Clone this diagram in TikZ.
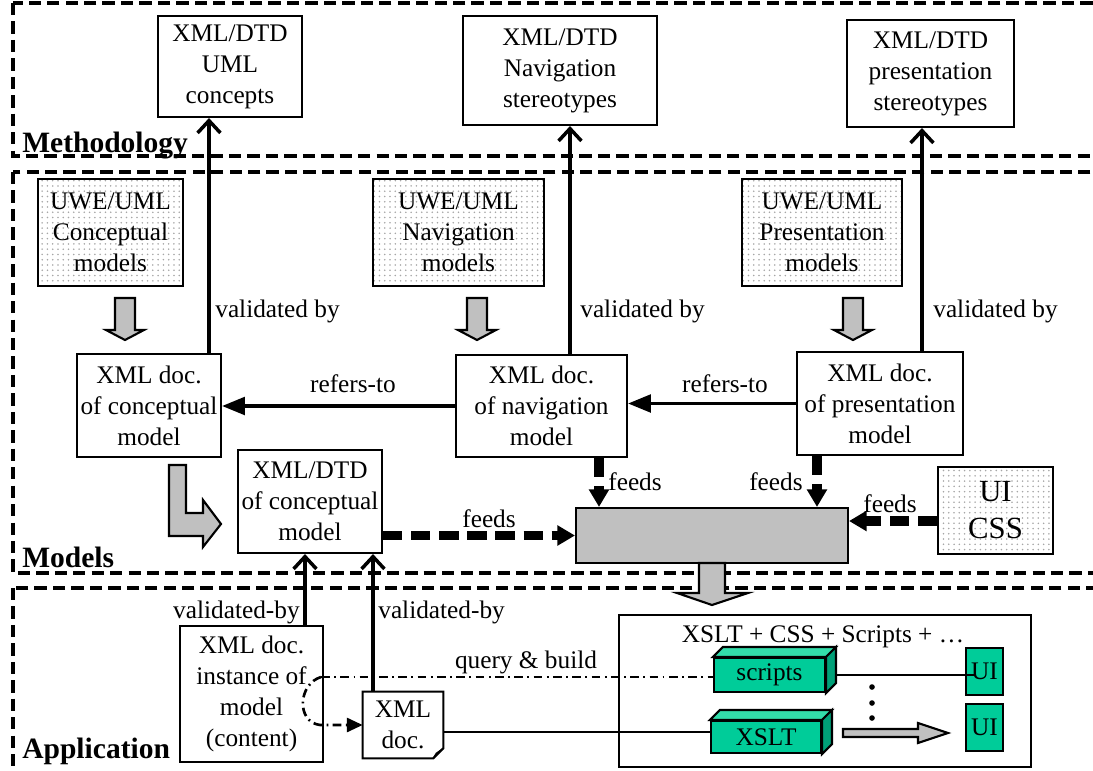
\documentclass[tikz,border=0pt]{standalone}
\usepackage{fontspec}
\setmainfont{Liberation Serif}
\definecolor{uwgray}{RGB}{192,192,192}
\definecolor{cubefront}{RGB}{0,204,153}
\definecolor{cubetop}{RGB}{51,221,170}
\definecolor{cubeside}{RGB}{0,160,120}
\usetikzlibrary{arrows.meta,patterns,calc}

\begin{document}
\begin{tikzpicture}[x=0.02cm, y=-0.02cm,
  every node/.style={font=\fontsize{14.4}{17.6}\selectfont},
  box/.style={draw, line width=1.2pt, align=center, inner sep=0pt},
  uwebox/.style={box, pattern=dots, pattern color=black!35},
  region/.style={draw, line width=2pt, dash pattern=on 7pt off 3.5pt},
  layer/.style={anchor=base west, inner sep=0pt, font=\fontsize{16.8}{20}\selectfont\bfseries},
  lbl/.style={inner sep=0pt},
  valid/.style={line width=2pt, -{Straight Barb[length=7pt,width=13pt,line width=2pt]}},
  refers/.style={line width=2pt, -{Triangle[length=13pt,width=10pt]}},
  feed/.style={line width=5.5pt, dash pattern=on 11pt off 5pt, -{Triangle[length=10pt,width=11pt]}},
  blockarrow/.style={draw, line width=1.2pt, fill=uwgray, line join=miter},
  cube/.style={box, fill=cubefront},
  query/.style={line width=1.5pt, dash pattern=on 5pt off 2.5pt on 1pt off 2.5pt}]
  \useasboundingbox (0,0) rectangle (1093,771);
  % Methodology layer
  \draw[region] (13,3) rectangle (1110,156);
  \node[layer] (methlbl) at (22,152) {Methodology};
  \node[box, minimum width=2.88cm, minimum height=2.02cm] (umlc) at (230,66.5) {XML/DTD\\UML\\concepts};
  \node[box, minimum width=3.88cm, minimum height=2.18cm] (navst) at (560,70.5) {XML/DTD\\Navigation\\stereotypes};
  \node[box, minimum width=3.34cm, minimum height=2.14cm] (presst) at (930.5,73.5) {XML/DTD\\presentation\\stereotypes};
  % Models layer
  \draw[region] (13,172) rectangle (1110,573);
  \node[layer] (modlbl) at (22,567) {Models};
  \node[uwebox, minimum width=2.9cm, minimum height=2.14cm] (uweconc) at (110.5,232.5) {UWE/UML\\Conceptual\\models};
  \node[uwebox, minimum width=3.42cm, minimum height=2.14cm] (uwenav) at (458.5,232.5) {UWE/UML\\Navigation\\models};
  \node[uwebox, minimum width=3.2cm, minimum height=2.14cm] (uwepres) at (822,232.5) {UWE/UML\\Presentation\\models};
  \node[box, minimum width=2.88cm, minimum height=2.06cm] (xmlconc) at (149,405.5) {XML doc.\\of conceptual\\model};
  \node[box, minimum width=3.42cm, minimum height=2.04cm] (xmlnav) at (541.5,406) {XML doc.\\of navigation\\model};
  \node[box, minimum width=3.32cm, minimum height=2.06cm] (xmlpres) at (880,403.5) {XML doc.\\of presentation\\model};
  \node[box, fill=white, minimum width=2.88cm, minimum height=2.06cm] (dtdconc) at (310,501.5) {XML/DTD\\of conceptual\\model};
  \node[box, fill=uwgray, minimum width=5.44cm, minimum height=1.1cm] (gen) at (712,535.5) {};
  \node[uwebox, minimum width=2.3cm, minimum height=1.74cm, font=\fontsize{17.5}{21}\selectfont] (uicss) at (995.5,510.5) {UI\\CSS};
  % transformation arrows
  \draw[blockarrow] (115,298) -- (135,298) -- (135,330) -- (144,330) -- (125,340) -- (106,330) -- (115,330) -- cycle;
  \draw[blockarrow] (467,298) -- (487,298) -- (487,330) -- (496,330) -- (477,340) -- (458,330) -- (467,330) -- cycle;
  \draw[blockarrow] (843,298) -- (863,298) -- (863,330) -- (872,330) -- (853,340) -- (834,330) -- (843,330) -- cycle;
  \draw[blockarrow] (169,465) -- (186,465) -- (186,513) -- (203,513) -- (203,500) -- (221,524) -- (203,547) -- (203,536) -- (169,536) -- cycle;
  % validation
  \coordinate (v1) at (209,0);
  \coordinate (v2) at (570,0);
  \coordinate (v3) at (922,0);
  \draw[valid] (xmlconc.north -| v1) -- (umlc.south -| v1);
  \draw[valid] (xmlnav.north -| v2) -- (navst.south -| v2);
  \draw[valid] (xmlpres.north -| v3) -- (presst.south -| v3);
  \node[lbl, anchor=base west] (vb1) at (215,317) {validated by};
  \node[lbl, anchor=base west] (vb2) at (580,317) {validated by};
  \node[lbl, anchor=base west] (vb3) at (933,317) {validated by};
  \draw[refers] (xmlnav.west) -- (xmlnav.west -| xmlconc.east);
  \draw[refers] (xmlpres.west) -- (xmlpres.west -| xmlnav.east);
  \node[lbl, anchor=base] (rf1) at (353,392) {refers-to};
  \node[lbl, anchor=base] (rf2) at (725,392) {refers-to};
  % feeds
  \coordinate (fn) at (599,0);
  \coordinate (fp) at (817,0);
  \coordinate (fu) at (0,521);
  \draw[feed] (dtdconc.east |- gen.west) -- (gen.west);
  \draw[feed] (xmlnav.south -| fn) -- (gen.north -| fn);
  \draw[feed] (xmlpres.south -| fp) -- (gen.north -| fp);
  \draw[feed] (uicss.west |- fu) -- (gen.east |- fu);
  \node[lbl, anchor=base west] (fd1) at (462,527) {feeds};
  \node[lbl, anchor=base west] (fd2) at (608,490) {feeds};
  \node[lbl, anchor=base east] (fd3) at (803,490) {feeds};
  \node[lbl, anchor=base west] (fd4) at (863,512) {feeds};
  % Application layer
  \draw[region] (13,588) rectangle (1110,790);
  \node[layer] (applbl) at (22,758) {Application};
  \draw[blockarrow] (699,563) -- (725,563) -- (725,593) -- (748,593) -- (712,605) -- (677,593) -- (699,593) -- cycle;
  \node[box, minimum width=2.86cm, minimum height=2.72cm] (inst) at (251.5,694) {XML doc.\\instance of\\model\\(content)};
  \node[align=center, inner sep=0pt, minimum width=1.6cm, minimum height=1.32cm] (xmldoc) at (403,725) {XML\\doc.};
  \draw[line width=1.2pt] (xmldoc.north west) -- (xmldoc.north east) -- ([yshift=0.2cm]xmldoc.south east) -- ([xshift=-0.2cm]xmldoc.south east) -- (xmldoc.south west) -- cycle;
  \draw[line width=0.8pt] ([xshift=-0.2cm]xmldoc.south east) -- ([xshift=-0.14cm,yshift=0.1cm]xmldoc.south east) -- ([yshift=0.2cm]xmldoc.south east);
  \node[box, minimum width=8.24cm, minimum height=3.04cm] (appbox) at (825,691) {};
  \node[lbl, anchor=base] (applabel) at (823,642) {XSLT + CSS + Scripts + …};
  \node[cube, minimum width=2.22cm, minimum height=0.68cm] (scripts) at (769.5,675) {scripts};
  \node[cube, minimum width=2.2cm, minimum height=0.64cm] (xslt) at (766,737) {XSLT};
  \foreach \c in {scripts,xslt} {
    \filldraw[fill=cubetop, line width=1.2pt] (\c.north west) -- ++(10,-10) -- ([shift={(10,-10)}]\c.north east) -- (\c.north east) -- cycle;
    \filldraw[fill=cubeside, line width=1.2pt] (\c.north east) -- ++(10,-10) -- ([shift={(10,-10)}]\c.south east) -- (\c.south east) -- cycle;
  }
  \node[cube, minimum width=0.74cm, minimum height=0.94cm] (ui1) at (984.5,671.5) {UI};
  \node[cube, minimum width=0.74cm, minimum height=0.94cm] (ui2) at (984.5,727.5) {UI};
  \draw[line width=1.2pt] ([xshift=0.2cm]scripts.east) -- ([xshift=0.2cm]scripts.east -| ui1.west);
  \fill (872,687) circle (1.6pt) (872,703) circle (1.6pt) (872,718) circle (1.6pt);
  \draw[blockarrow] (843,729) -- (918,729) -- (918,723) -- (948,733) -- (918,743) -- (918,737) -- (843,737) -- cycle;
  % instance validation and querying
  \coordinate (w1) at (305,0);
  \coordinate (w2) at (373,0);
  \draw[valid] (inst.north -| w1) -- (dtdconc.south -| w1);
  \draw[valid] (xmldoc.north -| w2) -- (dtdconc.south -| w2);
  \node[lbl, anchor=base east] (vb4) at (300,618) {validated-by};
  \node[lbl, anchor=base west] (vb5) at (378,618) {validated-by};
  \coordinate (qb) at (321,677);
  \draw[query] (qb) -- (qb -| scripts.west);
  \draw[query, -{Triangle[length=9pt,width=8pt]}] (qb) .. controls (298,684) and (296,722) .. (320,725) -- (xmldoc.west);
  \node[lbl, anchor=base] (qbl) at (526,668) {query \& build};
  \draw[line width=1.2pt] ([yshift=0.1cm]xslt.west -| xmldoc.east) -- ([yshift=0.1cm]xslt.west);
\end{tikzpicture}
\end{document}
